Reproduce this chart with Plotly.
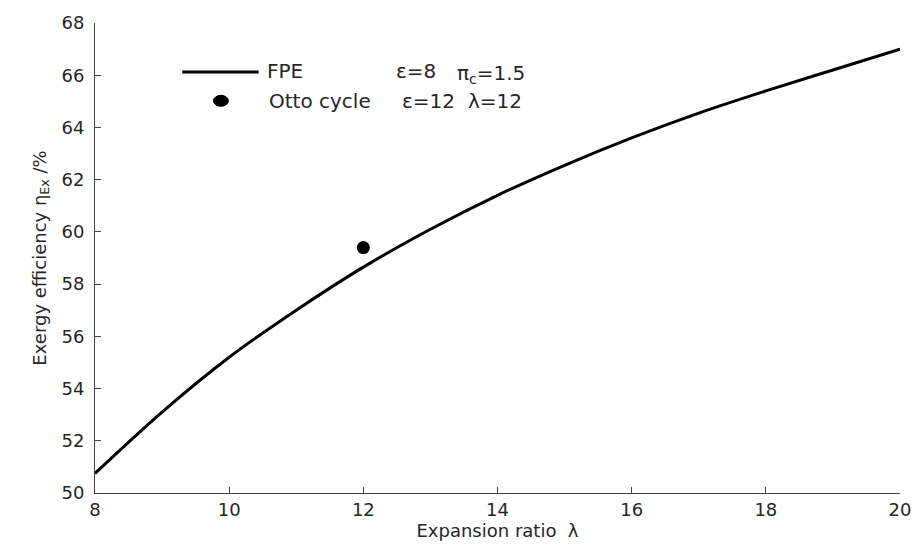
import plotly.graph_objects as go

# ---- data ----
lam = [8, 9, 10, 11, 12, 13, 14, 15, 16, 17, 18, 19, 20]
eta_fpe = [50.75, 53.1, 55.2, 57.0, 58.65, 60.1, 61.4, 62.55, 63.6, 64.55, 65.4, 66.2, 67.0]
otto_lam = [12]
otto_eta = [59.4]

x_ticks = [8, 10, 12, 14, 16, 18, 20]
y_ticks = [50, 52, 54, 56, 58, 60, 62, 64, 66, 68]

legend_names = ["FPE", "Otto cycle"]
legend_eps = ["ε=8", "ε=12"]
legend_third = ["π<sub>c</sub>=1.5", "λ=12"]

FONT = "DejaVu Sans, Verdana, sans-serif"
AXC = "#404040"
TXT = "#262626"

fig = go.Figure()
fig.add_trace(go.Scatter(x=lam, y=eta_fpe, mode="lines", line=dict(color="black", width=3, shape="spline"),
                         name=legend_names[0], showlegend=False))
fig.add_trace(go.Scatter(x=otto_lam, y=otto_eta, mode="markers", marker=dict(color="black", size=13),
                         name=legend_names[1], showlegend=False))

# ---- manual legend (keys + texts) ----
fig.add_shape(type="line", xref="x", yref="y", x0=9.30, x1=10.44, y0=66.12, y1=66.12,
              line=dict(color="black", width=3))
fig.add_shape(type="circle", xref="x", yref="y", xsizemode="pixel", ysizemode="pixel",
              xanchor=9.877, yanchor=65.02, x0=-7.5, x1=7.5, y0=-5.5, y1=5.5,
              fillcolor="black", line=dict(color="black", width=1))
rows_y = [66.15, 65.0]
name_x = [10.54, 10.56]
eps_x = [12.46, 12.54]
third_x = [13.36, 13.53]
for i in range(2):
    fig.add_annotation(x=name_x[i], y=rows_y[i], xref="x", yref="y", text=legend_names[i], showarrow=False,
                       xanchor="left", yanchor="middle", font=dict(family=FONT, size=20, color=TXT))
    fig.add_annotation(x=eps_x[i], y=rows_y[i], xref="x", yref="y", text=legend_eps[i], showarrow=False,
                       xanchor="left", yanchor="middle", font=dict(family=FONT, size=20, color=TXT))
    fig.add_annotation(x=third_x[i], y=rows_y[i] - (0.1 if i == 0 else 0), xref="x", yref="y",
                       text=legend_third[i], showarrow=False,
                       xanchor="left", yanchor="middle", font=dict(family=FONT, size=20, color=TXT))

fig.update_layout(
    width=923, height=549,
    margin=dict(l=95, r=16, t=15, b=56),
    paper_bgcolor="white", plot_bgcolor="white",
    font=dict(family=FONT, size=18, color=TXT),
    showlegend=False,
)
fig.update_xaxes(range=[8, 20], tickvals=x_ticks, ticktext=[str(v) for v in x_ticks],
                 showline=True, linecolor=AXC, linewidth=1, ticks="inside", ticklen=6, tickcolor=AXC,
                 showgrid=False, zeroline=False, mirror=False,
                 tickfont=dict(family=FONT, size=18, color=TXT),
                 title=dict(text="Expansion ratio  λ", font=dict(family=FONT, size=18, color=TXT), standoff=4))
fig.update_yaxes(range=[50, 68], tickvals=y_ticks, ticktext=[str(v) for v in y_ticks],
                 showline=True, linecolor=AXC, linewidth=1, ticks="inside", ticklen=6, tickcolor=AXC,
                 showgrid=False, zeroline=False, mirror=False,
                 tickfont=dict(family=FONT, size=18, color=TXT), ticklabelstandoff=6,
                 title=dict(text="Exergy efficiency η<sub>Ex</sub> /%", font=dict(family=FONT, size=18, color=TXT),
                            standoff=10))

fig.write_html("out.html")
